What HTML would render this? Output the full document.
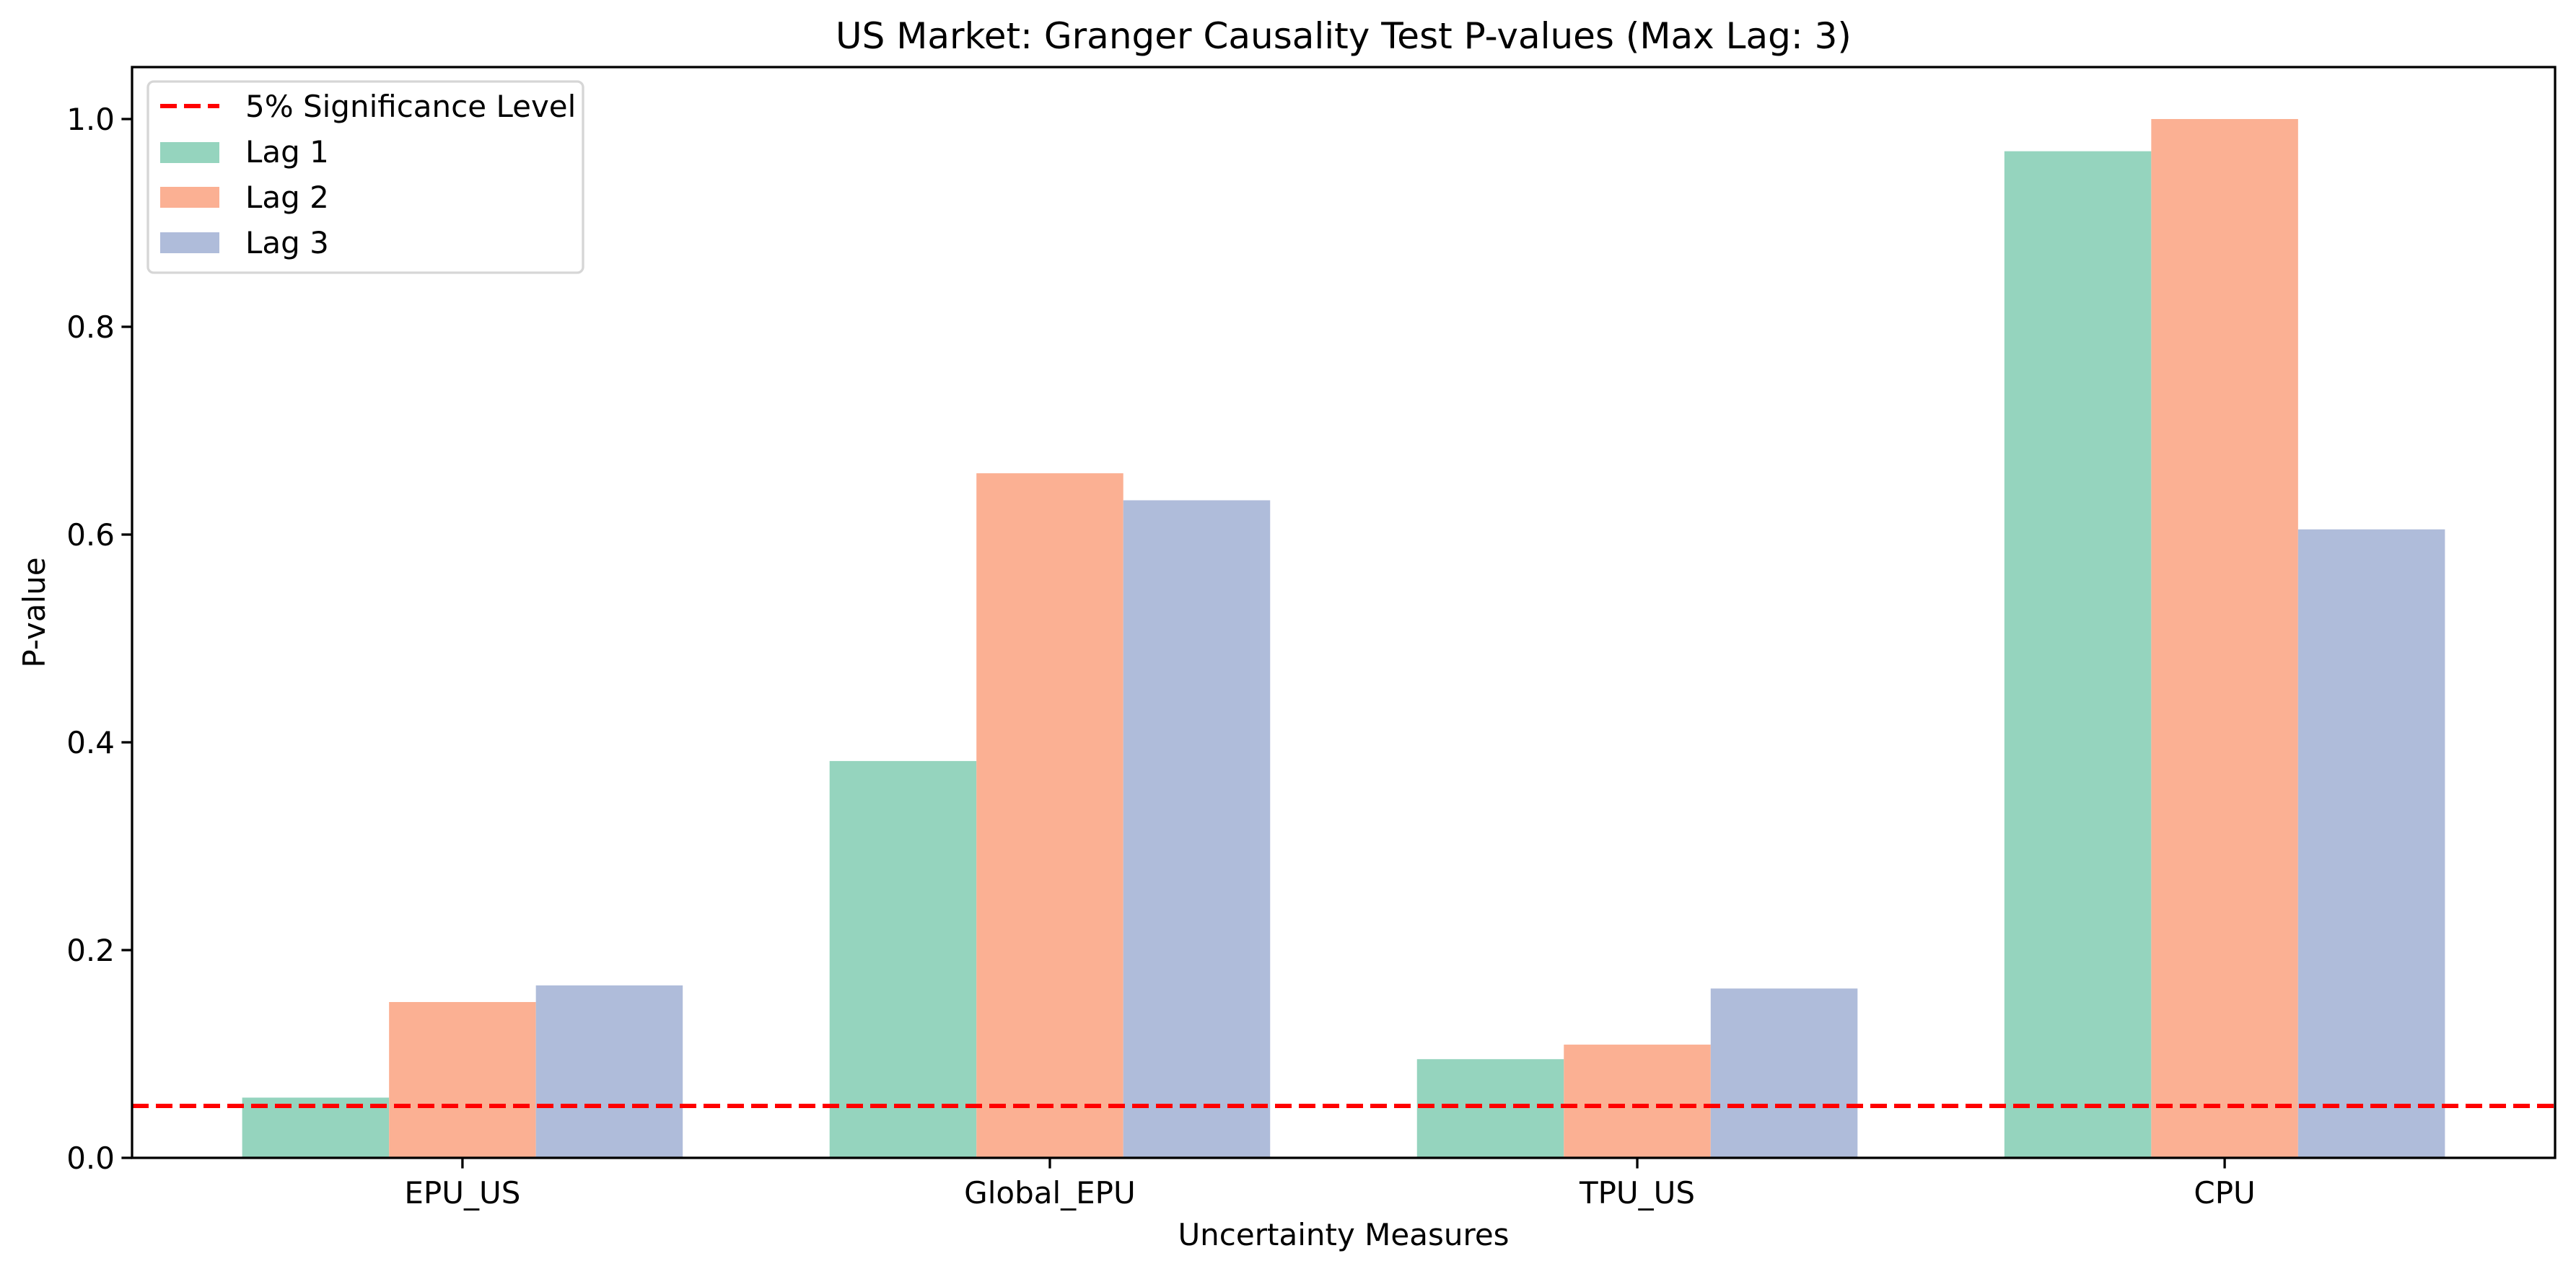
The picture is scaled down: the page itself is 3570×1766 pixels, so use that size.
<!DOCTYPE html>
<html><head><meta charset="utf-8"><style>
html,body{margin:0;padding:0;background:#fff;}
svg{display:block;font-family:"DejaVu Sans","Liberation Sans",sans-serif;}
</style></head><body>
<svg id="chart" width="3570" height="1766" viewBox="0 0 3570 1766" xmlns="http://www.w3.org/2000/svg">
<rect width="3570" height="1766" fill="#fff"/>
<text x="1862" y="67" font-size="50" text-anchor="middle">US Market: Granger Causality Test P-values (Max Lag: 3)</text>
<g id="bars"></g>
<g id="axes"></g>
<text x="1862" y="1726" font-size="42" text-anchor="middle">Uncertainty Measures</text>
<text transform="translate(62,849) rotate(-90)" font-size="42" text-anchor="middle">P-value</text>
<g>
<rect x="205" y="113" width="603" height="265" rx="8" fill="#fff" fill-opacity="0.8" stroke="#d6d6d6" stroke-width="3.3"/>
<line x1="222" y1="147" x2="304" y2="147" stroke="#ff0000" stroke-width="6" stroke-dasharray="23,10"/>
<text x="340" y="162" font-size="42">5% Significance Level</text>
<rect x="222" y="197" width="82" height="29" fill="#95d4be"/>
<text x="340" y="225" font-size="42">Lag 1</text>
<rect x="222" y="259" width="82" height="29" fill="#fbb093"/>
<text x="340" y="288" font-size="42">Lag 2</text>
<rect x="222" y="322" width="82" height="29" fill="#afbcda"/>
<text x="340" y="351" font-size="42">Lag 3</text>
</g>
</svg>
<script>
const categories = ["EPU_US","Global_EPU","TPU_US","CPU"];
const lag1 = [0.058,0.382,0.095,0.969];
const lag2 = [0.150,0.659,0.109,1.0];
const lag3 = [0.166,0.633,0.163,0.605];
const yTicks = [0.0,0.2,0.4,0.6,0.8,1.0];
const threshold = 0.05;

const L=183,R=3541,T=93,B=1605;
const xMin=-0.5625,xMax=3.5625,yMin=0,yMax=1.05;
const xs=v=>L+(v-xMin)/(xMax-xMin)*(R-L);
const ys=v=>B-(v-yMin)/(yMax-yMin)*(B-T);
const NS="http://www.w3.org/2000/svg";
function mk(tag,attrs,parent){const e=document.createElementNS(NS,tag);for(const k in attrs)e.setAttribute(k,attrs[k]);parent.appendChild(e);return e;}
const bars=document.getElementById('bars');
const series=[[lag1,"#95d4be",-0.25,"lag1"],[lag2,"#fbb093",0,"lag2"],[lag3,"#afbcda",0.25,"lag3"]];
series.forEach(([vals,col,off,nm])=>{
  vals.forEach((v,i)=>{
    const x0=xs(i+off-0.125),x1=xs(i+off+0.125);
    const r=mk('rect',{x:x0,y:ys(v),width:x1-x0,height:ys(0)-ys(v),fill:col},bars);
    
    
  });
});
const ax=document.getElementById('axes');
const th=mk('line',{x1:L,x2:R,y1:ys(threshold),y2:ys(threshold),stroke:"#ff0000","stroke-width":6,"stroke-dasharray":"23,10"},ax);


const fr=mk('rect',{x:L,y:T,width:R-L,height:B-T,fill:"none",stroke:"#000","stroke-width":3.3},ax);


yTicks.forEach(t=>{
  const y=ys(t);
  mk('line',{x1:L-14.6,x2:L,y1:y,y2:y,stroke:"#000","stroke-width":3.3},ax);
  const tx=mk('text',{x:L-24,y:y+15,"font-size":42,"text-anchor":"end"},ax);
  tx.textContent=t.toFixed(1);
  
  
});
categories.forEach((c,i)=>{
  const x=xs(i);
  mk('line',{x1:x,x2:x,y1:B,y2:B+14.6,stroke:"#000","stroke-width":3.3},ax);
  const tx=mk('text',{x:x,y:B+63,"font-size":42,"text-anchor":"middle"},ax);
  tx.textContent=c;
  
  
});
</script>
</body></html>
